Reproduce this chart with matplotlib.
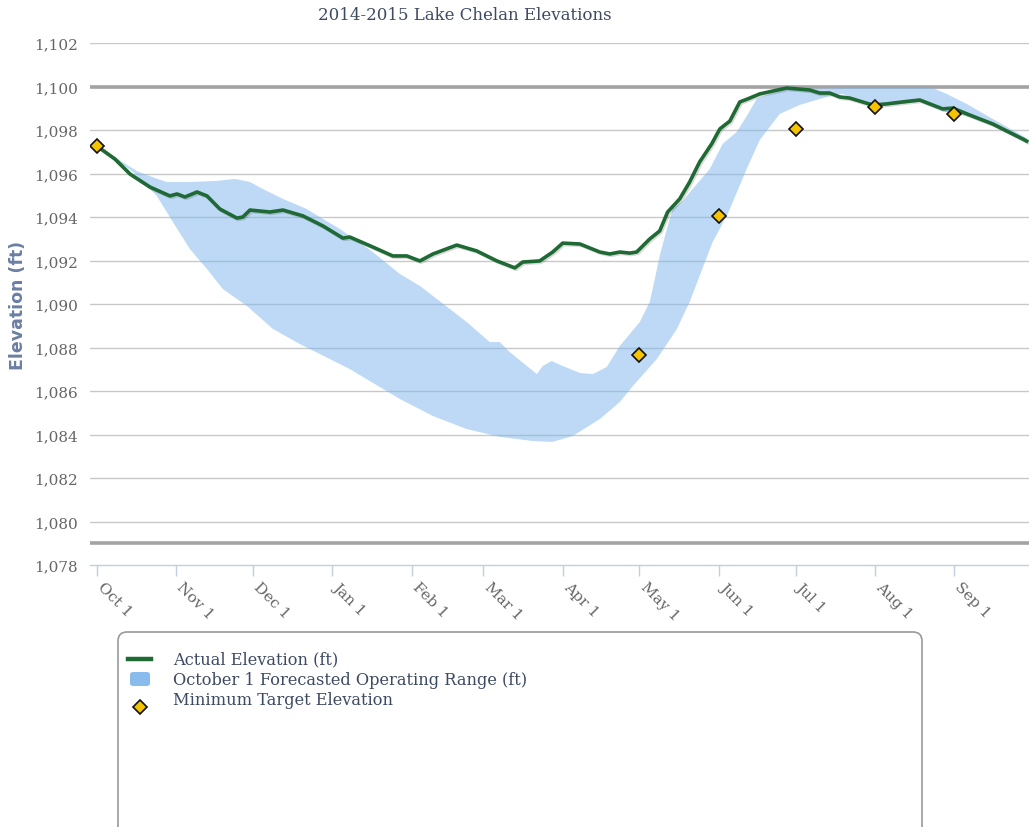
import matplotlib
matplotlib.use("Agg")
import matplotlib.pyplot as plt
from matplotlib.lines import Line2D
from matplotlib.patches import FancyBboxPatch
from matplotlib.transforms import ScaledTranslation
import matplotlib.patheffects as pe
import numpy as np

# ---------------- data (x = days since Oct 1, 2014) ----------------
month_ticks = [0, 31, 61, 92, 123, 151, 182, 212, 243, 273, 304, 335]
month_labels = ["Oct 1", "Nov 1", "Dec 1", "Jan 1", "Feb 1", "Mar 1",
                "Apr 1", "May 1", "Jun 1", "Jul 1", "Aug 1", "Sep 1"]

actual_days = [0, 7.0, 12.9, 20.7, 28.5, 31.3, 34.4, 39.1, 43.0, 48.0, 54.7, 57.0,
               59.8, 67.6, 72.7, 80.5, 88.3, 96.1, 98.8, 107.8, 115.6, 121.1, 126.2,
               131.3, 140.6, 148.4, 156.3, 163.3, 166.4, 173.0, 178.1, 182.0, 188.7,
               196.5, 200.4, 204.3, 208.2, 210.9, 216.0, 219.9, 223.0, 227.7, 231.6,
               235.5, 240.2, 243.4, 247.3, 251.2, 254.3, 259.0, 269.5, 278.5, 282.4,
               286.3, 290.2, 294.1, 303.1, 308.6, 314.8, 321.5, 330.5, 334.4, 341.0,
               350.0, 361.7, 363.3]
actual_elev = [1097.26, 1096.67, 1095.98, 1095.38, 1094.97, 1095.06, 1094.92, 1095.15,
               1094.97, 1094.37, 1093.95, 1094.00, 1094.32, 1094.23, 1094.32, 1094.05,
               1093.59, 1093.03, 1093.08, 1092.62, 1092.21, 1092.21, 1091.98, 1092.30,
               1092.71, 1092.44, 1091.98, 1091.66, 1091.93, 1091.98, 1092.39, 1092.80,
               1092.76, 1092.39, 1092.30, 1092.39, 1092.34, 1092.39, 1092.99, 1093.36,
               1094.23, 1094.83, 1095.61, 1096.53, 1097.36, 1098.05, 1098.41, 1099.29,
               1099.43, 1099.66, 1099.93, 1099.84, 1099.70, 1099.70, 1099.52, 1099.47,
               1099.15, 1099.20, 1099.29, 1099.38, 1098.97, 1099.01, 1098.69, 1098.28,
               1097.59, 1097.49]

range_high_days = [0, 7.0, 15.6, 22.7, 27.3, 36.3, 46.9, 53.9, 59.8, 64.8, 72.7, 82.0,
                   88.3, 94.9, 107.8, 118.4, 126.2, 131.3, 144.5, 153.5, 157.4, 161.3,
                   171.9, 174.2, 177.7, 182.0, 188.7, 193.8, 199.2, 204.3, 212.1, 216.0,
                   218.0, 219.9, 222.7, 225.0, 228.9, 232.8, 239.5, 244.5, 250.0, 253.9,
                   257.8, 262.9, 269.5, 291.4, 326.6, 332.0, 339.8, 350.0, 360.5, 363.3]
range_high = [1097.26, 1096.76, 1096.11, 1095.79, 1095.61, 1095.61, 1095.66, 1095.75,
              1095.61, 1095.29, 1094.83, 1094.37, 1093.91, 1093.45, 1092.39, 1091.38,
              1090.83, 1090.37, 1089.17, 1088.25, 1088.25, 1087.79, 1086.78, 1087.15,
              1087.38, 1087.15, 1086.83, 1086.78, 1087.10, 1088.07, 1089.17, 1090.09,
              1091.15, 1092.21, 1093.45, 1094.37, 1094.74, 1095.29, 1096.21, 1097.36,
              1097.91, 1098.64, 1099.43, 1099.66, 1099.89, 1099.93, 1099.93, 1099.66,
              1099.20, 1098.51, 1097.82, 1097.63]

range_low_days = [0, 7.0, 14.1, 23.4, 29.7, 36.3, 43.0, 49.2, 58.6, 68.8, 79.3, 98.8,
                  118.4, 131.3, 144.5, 157.4, 170.3, 178.1, 185.9, 196.5, 204.3, 209.4,
                  218.8, 226.6, 231.6, 235.5, 240.6, 246.5, 253.9, 259.0, 266.8, 274.6,
                  285.2, 291.4, 303.1, 314.8, 321.5, 330.5, 341.0, 350.0, 361.7, 363.3]
range_low = [1097.26, 1096.67, 1096.07, 1094.97, 1093.77, 1092.53, 1091.61, 1090.69,
             1089.91, 1088.85, 1088.16, 1087.01, 1085.63, 1084.85, 1084.25, 1083.89,
             1083.70, 1083.66, 1083.93, 1084.71, 1085.49, 1086.23, 1087.47, 1088.85,
             1090.09, 1091.29, 1092.85, 1094.14, 1096.21, 1097.54, 1098.74, 1099.15,
             1099.52, 1099.66, 1099.06, 1099.20, 1099.29, 1098.87, 1098.60, 1098.18,
             1097.49, 1097.40]

target_days = [0, 212, 243, 273, 304, 335]
target_elev = [1097.25, 1087.65, 1094.05, 1098.05, 1099.05, 1098.75]

y_ticks = list(range(1078, 1103, 2))
full_pool = 1100
min_pool = 1079

# ---------------- figure ----------------
W, H = 1029, 828
fig = plt.figure(figsize=(W / 100, H / 100), dpi=100)
ax = fig.add_axes([90 / W, 1 - 566 / H, (W - 90) / W, (566 - 44) / H])

serif = "DejaVu Serif"
text_col = "#3d4a63"
tick_col = "#666666"

ax.set_xlim(-2.7, 364.2)
ax.set_ylim(1078, 1102)

for yv in y_ticks[1:]:
    ax.axhline(yv, color="#c8c8c8", lw=1.0, zorder=1)
ax.axhline(full_pool, color="#a3a3a3", lw=2.6, zorder=1.5)
ax.axhline(min_pool, color="#a3a3a3", lw=2.6, zorder=1.5)

band_x = np.concatenate([range_high_days, range_low_days[::-1]])
band_y = np.concatenate([range_high, range_low[::-1]])
ax.fill(band_x, band_y, color="#7cb5ec", alpha=0.5, lw=0, zorder=2)

ax.plot(actual_days, actual_elev, color="#1f6a34", lw=2.6, zorder=3,
        solid_joinstyle="round",
        path_effects=[pe.SimpleLineShadow(offset=(1, -1), alpha=0.15), pe.Normal()])

ax.plot(target_days, target_elev, linestyle="none", marker="D", markersize=7.5,
        markerfacecolor="#f5c400", markeredgecolor="#111111", markeredgewidth=1.2,
        zorder=4)

for s in ["top", "right", "left"]:
    ax.spines[s].set_visible(False)
ax.spines["bottom"].set_color("#c0d0e0")
ax.spines["bottom"].set_linewidth(1.0)

ax.set_yticks(y_ticks)
ax.set_yticklabels([f"{v:,}" for v in y_ticks], fontfamily=serif, fontsize=11,
                   color=tick_col)
ax.tick_params(axis="y", length=0, pad=9)

ax.set_xticks(month_ticks)
ax.set_xticklabels(month_labels, fontfamily=serif, fontsize=11, color=tick_col,
                   rotation=-45, ha="left", rotation_mode="anchor")
ax.tick_params(axis="x", length=8, color="#c0d0e0", width=1, pad=2)
shift = ScaledTranslation(8 / 100, 0, fig.dpi_scale_trans)
for lab in ax.get_xticklabels():
    lab.set_transform(lab.get_transform() + shift)

fig.text(18 / W, 1 - 305 / H, "Elevation (ft)", rotation=90, ha="center", va="center",
         fontsize=12.5, fontweight="bold", color="#6a7fa3", fontfamily="DejaVu Sans")

fig.text(465 / W, 1 - 15 / H, "2014-2015 Lake Chelan Elevations", ha="center",
         va="center", fontsize=12, color=text_col, fontfamily=serif)

# ---------------- legend ----------------
box = FancyBboxPatch((1.18, -0.3), 8.04, (828 - 633) / 100 + 0.3,
                     boxstyle="round,pad=0,rounding_size=0.09",
                     transform=fig.dpi_scale_trans, facecolor="white",
                     edgecolor="#9a9a9a", lw=1.2, zorder=0)
fig.add_artist(box)

def fx(px):
    return px / W

def fy(py):
    return 1 - py / H

fig.add_artist(Line2D([fx(128), fx(151)], [fy(660), fy(660)], color="#1f6a34",
                      lw=3.2, transform=fig.transFigure))
sw = FancyBboxPatch((fx(130), fy(687)), fx(150) - fx(130), fy(673) - fy(687),
                    boxstyle="round,pad=0,rounding_size=0.003",
                    transform=fig.transFigure, facecolor="#7cb5ec", alpha=0.9,
                    edgecolor="none")
fig.add_artist(sw)
fig.add_artist(Line2D([fx(140)], [fy(708)], marker="D", markersize=7.5,
                      markerfacecolor="#f5c400", markeredgecolor="#111111",
                      markeredgewidth=1.2, linestyle="none",
                      transform=fig.transFigure))

legend_labels = ["Actual Elevation (ft)", "October 1 Forecasted Operating Range (ft)",
                 "Minimum Target Elevation"]
for i, lab in enumerate(legend_labels):
    fig.text(fx(173), fy(660 + 20.5 * i), lab, ha="left", va="center", fontsize=11.7,
             color=text_col, fontfamily=serif)

fig.savefig("out.png", dpi=100)
